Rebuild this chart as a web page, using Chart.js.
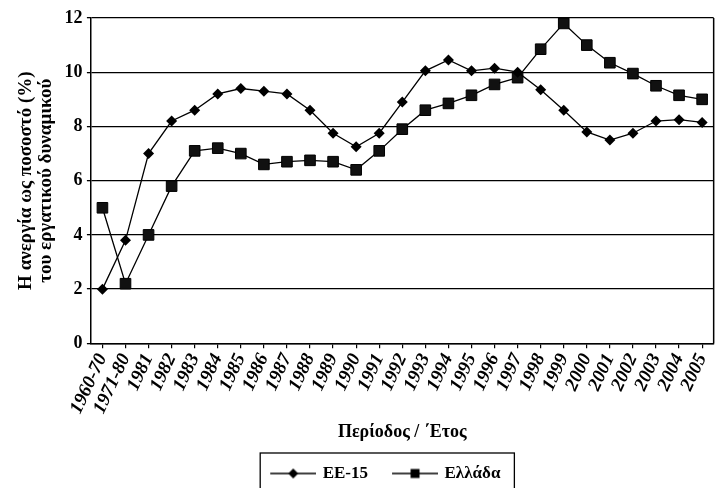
<!DOCTYPE html>
<html>
<head>
<meta charset="utf-8">
<script src="https://cdn.jsdelivr.net/npm/chart.js@4.4.1/dist/chart.umd.min.js"></script>
<style>
	html, body { margin: 0; padding: 0; background: #fff; }
	#wrap { width: 725px; height: 488px; }
</style>
</head>
<body>
<div id="wrap"><canvas id="chart"></canvas></div>
<script>
"use strict";

// data
var periods = ['1960-70', '1971-80', '1981', '1982', '1983', '1984', '1985', '1986', '1987', '1988',
	'1989', '1990', '1991', '1992', '1993', '1994', '1995', '1996', '1997', '1998',
	'1999', '2000', '2001', '2002', '2003', '2004', '2005'];
var ee15 = [2.0, 3.8, 7.0, 8.2, 8.6, 9.2, 9.4, 9.3, 9.2, 8.6,
	7.75, 7.25, 7.75, 8.9, 10.05, 10.45, 10.05, 10.15, 10.0, 9.35,
	8.6, 7.8, 7.5, 7.75, 8.2, 8.25, 8.15];
var greece = [5.0, 2.2, 4.0, 5.8, 7.1, 7.2, 7.0, 6.6, 6.7, 6.75,
	6.7, 6.4, 7.1, 7.9, 8.6, 8.85, 9.15, 9.55, 9.8, 10.85,
	11.8, 11.0, 10.35, 9.95, 9.5, 9.15, 9.0];
var seriesNames = ['ΕΕ-15', 'Ελλάδα'];
var yMin = 0, yMax = 12, yStep = 2;
var yTitle = ['Η ανεργία ως ποσοστό (%)', 'του εργατικού δυναμικού'];
var xTitle = 'Περίοδος / ΄Ετος';

var serif = "'Liberation Serif', 'Times New Roman', serif";

// small line + marker icons for the legend
function LegendIcon(shape) {
	var c = document.createElement('canvas');
	c.width = 54;
	c.height = 14;
	var g = c.getContext('2d');
	g.strokeStyle = '#000';
	g.lineWidth = 1.3;
	g.beginPath();
	g.moveTo(8, 7);
	g.lineTo(54, 7);
	g.stroke();
	g.fillStyle = '#000';
	g.beginPath();
	if (shape == 'diamond') {
		g.moveTo(31, 2);
		g.lineTo(36, 7);
		g.lineTo(31, 12);
		g.lineTo(26, 7);
		g.closePath();
	}
	else {
		g.rect(26.5, 2.5, 9, 9);
	}
	g.fill();
	return c;
}
var legendIcons = [LegendIcon('diamond'), LegendIcon('square')];

// right edge of the plot frame + legend box like the original
var framePlugin = {
	id: 'frame',
	afterLayout: function (chart) {
		chart.legend.left -= 20;
		chart.legend.right -= 20;
		chart.legend.top -= 2;
		chart.legend.bottom -= 2;
	},
	beforeDatasetsDraw: function (chart) {
		var a = chart.chartArea;
		var ctx = chart.ctx;
		ctx.save();
		ctx.strokeStyle = '#000';
		ctx.lineWidth = 1.5;
		ctx.beginPath();
		ctx.moveTo(a.right, a.top);
		ctx.lineTo(a.right, a.bottom);
		ctx.stroke();
		ctx.restore();
	},
	afterDraw: function (chart) {
		var boxes = chart.legend.legendHitBoxes;
		if (!boxes || !boxes.length) return;
		var first = boxes[0];
		var last = boxes[boxes.length - 1];
		var ctx = chart.ctx;
		ctx.save();
		ctx.strokeStyle = '#000';
		ctx.lineWidth = 1.3;
		ctx.strokeRect(first.left - 4, first.top - 12, last.left + last.width - first.left + 18, 70);
		ctx.restore();
	}
};

const context = document.getElementById('chart');
const myChart = new Chart(context, {
	type: 'line',
	data: {
		labels: periods,
		datasets: [{
			label: seriesNames[0],
			data: ee15,
			borderColor: '#000',
			borderWidth: 1.3,
			backgroundColor: '#000',
			pointStyle: 'rectRot',
			pointRadius: 5.5,
			pointBorderWidth: 0,
			tension: 0
		}, {
			label: seriesNames[1],
			data: greece,
			borderColor: '#000',
			borderWidth: 1.3,
			backgroundColor: '#111',
			pointStyle: 'rect',
			pointRadius: 7.5,
			pointBorderWidth: 1,
			pointBorderColor: '#000',
			tension: 0
		}]
	},
	options: {
		responsive: true,
		maintainAspectRatio: false,
		animation: false,
		layout: {
			padding: { left: 12, right: 11, top: 18, bottom: -6 }
		},
		plugins: {
			tooltip: { enabled: false },
			legend: {
				position: 'bottom',
				fullSize: false,
				labels: {
					usePointStyle: true,
					pointStyleWidth: 50,
					padding: 18,
					color: '#000',
					font: { family: serif, size: 17, weight: 'bold' },
					generateLabels: function (chart) {
						var items = Chart.defaults.plugins.legend.labels.generateLabels(chart);
						SetLegendIcons(items);
						return items;
					}
				}
			}
		},
		scales: {
			x: {
				offset: true,
				grid: {
					drawOnChartArea: false,
					drawTicks: true,
					tickLength: 5,
					color: '#000',
					lineWidth: 1.2
				},
				border: { color: '#000', width: 1.5 },
				ticks: {
					autoSkip: false,
					minRotation: 65,
					maxRotation: 65,
					padding: 2,
					color: '#000',
					font: { family: serif, size: 19, weight: 'bold', style: 'italic' }
				},
				title: {
					display: true,
					text: xTitle,
					color: '#000',
					padding: { top: 2, bottom: 6 },
					font: { family: serif, size: 18, weight: 'bold' }
				}
			},
			y: {
				min: yMin,
				max: yMax,
				grid: {
					color: '#000',
					lineWidth: 1.3,
					tickLength: 4
				},
				border: { color: '#000', width: 1.5 },
				ticks: {
					stepSize: yStep,
					padding: 4.5,
					color: '#000',
					font: { family: serif, size: 18, weight: 'bold' }
				},
				title: {
					display: true,
					text: yTitle,
					color: '#000',
					padding: 4,
					font: { family: serif, size: 19, weight: 'bold', lineHeight: 1.05 }
				}
			}
		}
	},
	plugins: [framePlugin]
});

function SetLegendIcons(items) {
	items.forEach(function (item, i) {
		item.pointStyle = legendIcons[i];
		item.lineWidth = 0;
	});
}
</script>
</body>
</html>
